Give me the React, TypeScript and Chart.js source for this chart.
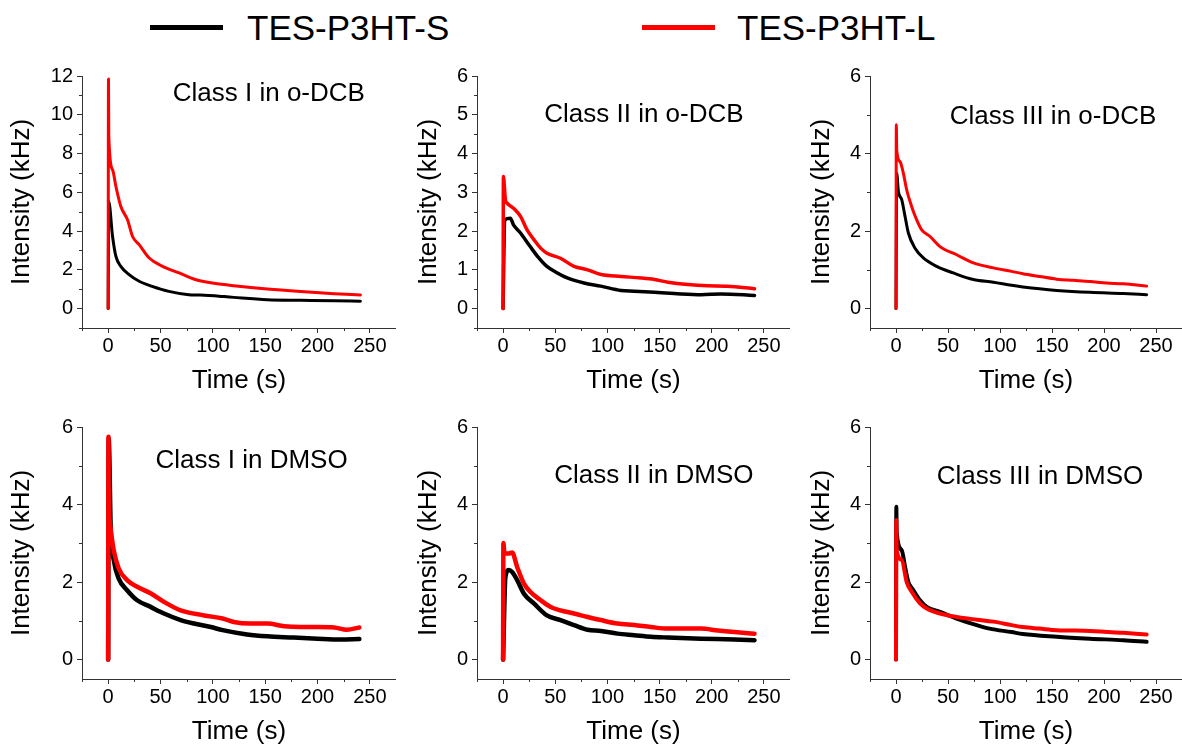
import React, { useEffect, useRef } from "react";
import { Chart, registerables } from "chart.js";

Chart.register(...registerables);

const FONT = '"Liberation Sans", Arial, sans-serif';

// ---------- Data ----------
// Class I in o-DCB
const dcbI_L_time = [0, 0.3, 0.6, 4.2, 7.4, 12.1, 18.5, 23.3, 29.6, 39.2, 52, 67.8, 83.8, 110.8, 120, 152, 184, 216, 241];
const dcbI_L_int = [0, 11.85, 8.87, 7.16, 6.3, 5.27, 4.58, 3.72, 3.3, 2.61, 2.18, 1.84, 1.49, 1.24, 1.18, 1.01, 0.88, 0.77, 0.7];
const dcbI_S_time = [0, 0.5, 4.2, 7.4, 12.1, 20, 29.6, 42, 58, 77, 88, 110.8, 120, 152, 184, 216, 241];
const dcbI_S_int = [0, 5.53, 3.72, 2.69, 2.18, 1.75, 1.41, 1.15, 0.89, 0.72, 0.7, 0.62, 0.58, 0.46, 0.43, 0.4, 0.38];

// Class II in o-DCB
const dcbII_L_time = [0, 0.3, 2.2, 3.8, 10, 16.7, 23, 29.5, 36, 42, 55, 68, 81, 94, 113, 132, 145, 158, 177, 196, 215, 241];
const dcbII_L_int = [0, 3.41, 2.81, 2.72, 2.59, 2.38, 2.03, 1.78, 1.56, 1.43, 1.3, 1.09, 1.0, 0.88, 0.83, 0.79, 0.75, 0.68, 0.62, 0.59, 0.58, 0.51];
const dcbII_S_time = [0, 1.5, 7, 10, 16.7, 26, 33, 42, 52, 61.5, 77.6, 93.6, 113, 125.6, 145, 164, 190, 209, 241];
const dcbII_S_int = [0, 2.29, 2.33, 2.16, 1.95, 1.6, 1.35, 1.09, 0.92, 0.79, 0.66, 0.58, 0.47, 0.45, 0.42, 0.39, 0.36, 0.38, 0.34];

// Class III in o-DCB
const dcbIII_L_time = [0, 0.3, 0.7, 3.9, 7.1, 10.3, 15.1, 19.9, 24.7, 32.7, 42.3, 58.3, 74.4, 93.6, 111.2, 122, 138, 154.5, 170.5, 186.5, 202.5, 218.6, 241];
const dcbIII_L_int = [0, 4.74, 4.09, 3.79, 3.49, 3.06, 2.63, 2.29, 2.03, 1.86, 1.6, 1.39, 1.18, 1.05, 0.96, 0.9, 0.83, 0.76, 0.73, 0.7, 0.66, 0.64, 0.58];
const dcbIII_S_time = [0, 0.7, 2.3, 5.5, 8.7, 11.9, 18.3, 26.3, 39.1, 55.1, 74.4, 93.6, 111.2, 122, 138, 154.5, 186.5, 218.6, 241];
const dcbIII_S_int = [0, 3.49, 3.02, 2.81, 2.38, 1.95, 1.56, 1.31, 1.09, 0.92, 0.75, 0.68, 0.6, 0.56, 0.51, 0.47, 0.42, 0.39, 0.36];

// Class I in DMSO
const dmsoI_L_time = [0, 0.3, 0.5, 2.1, 5.3, 10.1, 18.1, 27.7, 40.5, 53.3, 69.3, 91.7, 109.3, 120, 136, 152, 168, 184, 200, 216, 228, 240];
const dmsoI_L_int = [0, 5.75, 4.46, 3.43, 2.82, 2.35, 2.05, 1.88, 1.71, 1.49, 1.27, 1.14, 1.06, 0.97, 0.93, 0.93, 0.86, 0.84, 0.84, 0.83, 0.77, 0.83];
const dmsoI_S_time = [0, 0.5, 2.5, 5.3, 10.1, 18.1, 27.7, 40.5, 53.3, 69.3, 82, 98, 109.3, 132.6, 152, 177, 200, 222, 240];
const dmsoI_S_int = [0, 5.7, 3.3, 2.57, 2.09, 1.79, 1.53, 1.36, 1.19, 1.02, 0.93, 0.84, 0.76, 0.65, 0.6, 0.57, 0.54, 0.52, 0.53];

// Class II in DMSO
const dmsoII_L_time = [0, 0.3, 1.3, 5.4, 8.7, 13.5, 20, 26, 36, 45.5, 55, 68, 81, 93.6, 109.6, 125.6, 141.7, 157.7, 173.7, 189.7, 205.8, 221.8, 241];
const dmsoII_L_int = [0, 3.01, 2.74, 2.74, 2.76, 2.39, 1.96, 1.75, 1.53, 1.36, 1.27, 1.19, 1.1, 1.02, 0.93, 0.89, 0.84, 0.8, 0.8, 0.8, 0.75, 0.71, 0.67];
const dmsoII_S_time = [0, 2.2, 5.4, 8.7, 13.5, 20, 29.5, 42, 55, 68, 81, 93.6, 109.6, 125.6, 141.7, 157.7, 189.7, 221.8, 241];
const dmsoII_S_int = [0, 2.13, 2.31, 2.26, 2.05, 1.7, 1.45, 1.14, 1.02, 0.89, 0.77, 0.74, 0.67, 0.63, 0.59, 0.57, 0.54, 0.52, 0.5];

// Class III in DMSO
const dmsoIII_L_time = [0, 0.3, 0.7, 5.5, 10.3, 15.1, 23.1, 29.5, 42.3, 58.3, 77.6, 93.6, 111.2, 122, 138, 154.5, 186.5, 218.6, 241];
const dmsoIII_L_int = [0, 3.6, 2.82, 2.57, 2.0, 1.75, 1.45, 1.32, 1.19, 1.1, 1.03, 0.98, 0.89, 0.84, 0.8, 0.76, 0.74, 0.69, 0.65];
const dmsoIII_S_time = [0, 0.3, 0.7, 5.5, 8.7, 11.9, 16.7, 23.1, 29.5, 42.3, 58.3, 77.6, 90, 111.2, 122, 154.5, 186.5, 218.6, 241];
const dmsoIII_S_int = [0, 3.94, 3.26, 2.82, 2.39, 2.0, 1.79, 1.53, 1.36, 1.23, 1.06, 0.89, 0.8, 0.71, 0.66, 0.59, 0.54, 0.5, 0.46];

// Ticks
const xMajorTicks = [0, 50, 100, 150, 200, 250];
const xMinorTicks = [-25, 25, 75, 125, 175, 225, 275];
const y12Major = [0, 2, 4, 6, 8, 10, 12];
const y12Minor = [-1, 1, 3, 5, 7, 9, 11];
const y6StepOneMajor = [0, 1, 2, 3, 4, 5, 6];
const y6StepOneMinor = [-0.5, 0.5, 1.5, 2.5, 3.5, 4.5, 5.5];
const y6StepTwoMajor = [0, 2, 4, 6];
const y6StepTwoMinor = [1, 3, 5];

const seriesNames = ["TES-P3HT-S", "TES-P3HT-L"];
const seriesColors = ["#000000", "#ff0000"];

type PanelCfg = {
  label: string;
  left: number;
  top: number;
  width: number;
  height: number;
  yWidth: number;
  yMin: number;
  yMax: number;
  yMajor: number[];
  yMinor: number[];
  labelX: number;
  labelY: number;
  sT: number[];
  sV: number[];
  lT: number[];
  lV: number[];
  lineWidth: number;
};

const TOP_ROW = 60;
const BOT_ROW = 411;
const ROW_H = 336;

const panels: PanelCfg[] = [
  { label: "Class I in o-DCB", left: 6, top: TOP_ROW, width: 390, height: ROW_H, yWidth: 76, yMin: -1, yMax: 12, yMajor: y12Major, yMinor: y12Minor, labelX: 153.5, labelY: 11.06, sT: dcbI_S_time, sV: dcbI_S_int, lT: dcbI_L_time, lV: dcbI_L_int, lineWidth: 3 },
  { label: "Class II in o-DCB", left: 413, top: TOP_ROW, width: 377, height: ROW_H, yWidth: 64, yMin: -0.5, yMax: 6, yMajor: y6StepOneMajor, yMinor: y6StepOneMinor, labelX: 135, labelY: 5.0, sT: dcbII_S_time, sV: dcbII_S_int, lT: dcbII_L_time, lV: dcbII_L_int, lineWidth: 3.5 },
  { label: "Class III in o-DCB", left: 806, top: TOP_ROW, width: 376, height: ROW_H, yWidth: 64, yMin: -0.5, yMax: 6, yMajor: y6StepTwoMajor, yMinor: y6StepTwoMinor, labelX: 151, labelY: 4.95, sT: dcbIII_S_time, sV: dcbIII_S_int, lT: dcbIII_L_time, lV: dcbIII_L_int, lineWidth: 3 },
  { label: "Class I in DMSO", left: 6, top: BOT_ROW, width: 390, height: ROW_H, yWidth: 76, yMin: -0.5, yMax: 6, yMajor: y6StepTwoMajor, yMinor: y6StepTwoMinor, labelX: 137, labelY: 5.14, sT: dmsoI_S_time, sV: dmsoI_S_int, lT: dmsoI_L_time, lV: dmsoI_L_int, lineWidth: 4.5 },
  { label: "Class II in DMSO", left: 413, top: BOT_ROW, width: 377, height: ROW_H, yWidth: 64, yMin: -0.5, yMax: 6, yMajor: y6StepTwoMajor, yMinor: y6StepTwoMinor, labelX: 144.5, labelY: 4.74, sT: dmsoII_S_time, sV: dmsoII_S_int, lT: dmsoII_L_time, lV: dmsoII_L_int, lineWidth: 4.5 },
  { label: "Class III in DMSO", left: 806, top: BOT_ROW, width: 376, height: ROW_H, yWidth: 64, yMin: -0.5, yMax: 6, yMajor: y6StepTwoMajor, yMinor: y6StepTwoMinor, labelX: 138.5, labelY: 4.71, sT: dmsoIII_S_time, sV: dmsoIII_S_int, lT: dmsoIII_L_time, lV: dmsoIII_L_int, lineWidth: 4 },
];

const AXIS_COLOR = "#333333";

function Panel({ p }: { p: PanelCfg }) {
  const ref = useRef<HTMLCanvasElement | null>(null);
  useEffect(() => {
    if (!ref.current) return;
    const toPts = (t: number[], v: number[]) => t.map((x, i) => ({ x, y: v[i] }));

    const decorPlugin = {
      id: "decor" + p.label.replace(/[^A-Za-z]/g, ""),
      afterDatasetsDraw(chart: any) {
        const ctx = chart.ctx;
        const xs = chart.scales.x;
        const ys = chart.scales.y;
        ctx.save();
        ctx.font = `26px ${FONT}`;
        ctx.fillStyle = "#000";
        ctx.textAlign = "center";
        ctx.textBaseline = "middle";
        ctx.fillText(p.label, xs.getPixelForValue(p.labelX), ys.getPixelForValue(p.labelY));
        ctx.restore();
      },
      afterDraw(chart: any) {
        const ctx = chart.ctx;
        const xs = chart.scales.x;
        const ys = chart.scales.y;
        ctx.save();
        ctx.strokeStyle = AXIS_COLOR;
        ctx.lineWidth = 1;
        ctx.beginPath();
        for (const v of xMinorTicks) {
          const px = Math.round(xs.getPixelForValue(v)) + 0.5;
          ctx.moveTo(px, ys.bottom);
          ctx.lineTo(px, ys.bottom + 3);
        }
        for (const v of p.yMinor) {
          const py = Math.round(ys.getPixelForValue(v)) + 0.5;
          ctx.moveTo(xs.left - 3, py);
          ctx.lineTo(xs.left, py);
        }
        ctx.stroke();
        ctx.restore();
      },
    };

    const lineStyle = {
      borderWidth: p.lineWidth,
      pointRadius: 0,
      cubicInterpolationMode: "monotone",
      borderJoinStyle: "round",
      borderCapStyle: "round",
    };

    const chart = new Chart(ref.current, {
      type: "line",
      data: {
        datasets: [
          {
            label: seriesNames[1],
            data: toPts(p.lT, p.lV),
            borderColor: seriesColors[1],
            backgroundColor: seriesColors[1],
            order: 0,
            ...lineStyle,
          },
          {
            label: seriesNames[0],
            data: toPts(p.sT, p.sV),
            borderColor: seriesColors[0],
            backgroundColor: seriesColors[0],
            order: 1,
            ...lineStyle,
          },
        ],
      },
      options: {
        animation: false,
        responsive: false,
        maintainAspectRatio: false,
        layout: { padding: { top: 16, right: 0, bottom: 0, left: 0 } },
        plugins: {
          legend: { display: false },
          tooltip: { enabled: false },
          title: { display: false },
        },
        scales: {
          x: {
            type: "linear",
            min: -25,
            max: 275,
            afterBuildTicks: (s: any) => {
              s.ticks = xMajorTicks.map((v) => ({ value: v }));
            },
            afterFit: (s: any) => {
              s.height = 68;
            },
            grid: { drawOnChartArea: false, drawTicks: true, tickLength: 5, tickColor: AXIS_COLOR, tickWidth: 1 },
            border: { display: true, color: AXIS_COLOR, width: 1 },
            ticks: { font: { family: FONT, size: 20 }, color: "#000", padding: 1, maxRotation: 0, autoSkip: false },
            title: { display: true, text: "Time (s)", font: { family: FONT, size: 26 }, color: "#000", padding: 0 },
          },
          y: {
            type: "linear",
            min: p.yMin,
            max: p.yMax,
            afterBuildTicks: (s: any) => {
              s.ticks = p.yMajor.map((v) => ({ value: v }));
            },
            afterFit: (s: any) => {
              s.width = p.yWidth;
            },
            grid: { drawOnChartArea: false, drawTicks: true, tickLength: 5, tickColor: AXIS_COLOR, tickWidth: 1 },
            border: { display: true, color: AXIS_COLOR, width: 1 },
            ticks: { font: { family: FONT, size: 20 }, color: "#000", padding: 4, autoSkip: false },
            title: { display: true, text: "Intensity (kHz)", font: { family: FONT, size: 26 }, color: "#000", padding: 0 },
          },
        },
      } as any,
      plugins: [decorPlugin],
    } as any);
    return () => chart.destroy();
  }, [p]);

  return (
    <canvas
      ref={ref}
      width={p.width}
      height={p.height}
      style={{ position: "absolute", left: p.left, top: p.top, width: p.width, height: p.height }}
    />
  );
}

function LegendItem({ lineLeft, textLeft, color, text }: { lineLeft: number; textLeft: number; color: string; text: string }) {
  return (
    <>
      <div style={{ position: "absolute", left: lineLeft, top: 25, width: 73, height: 5, background: color }} />
      <div
        style={{
          position: "absolute",
          left: textLeft,
          top: 10,
          fontFamily: FONT,
          fontSize: 35,
          lineHeight: "35px",
          color: "#000",
          whiteSpace: "nowrap",
        }}
      >
        {text}
      </div>
    </>
  );
}

export default function App() {
  return (
    <div
      style={{
        position: "absolute",
        left: 0,
        top: 0,
        width: 1182,
        height: 749,
        background: "#fff",
        overflow: "hidden",
      }}
    >
      <LegendItem lineLeft={150} textLeft={247} color={seriesColors[0]} text={seriesNames[0]} />
      <LegendItem lineLeft={642} textLeft={737} color={seriesColors[1]} text={seriesNames[1]} />
      {panels.map((p) => (
        <Panel key={p.label} p={p} />
      ))}
    </div>
  );
}
